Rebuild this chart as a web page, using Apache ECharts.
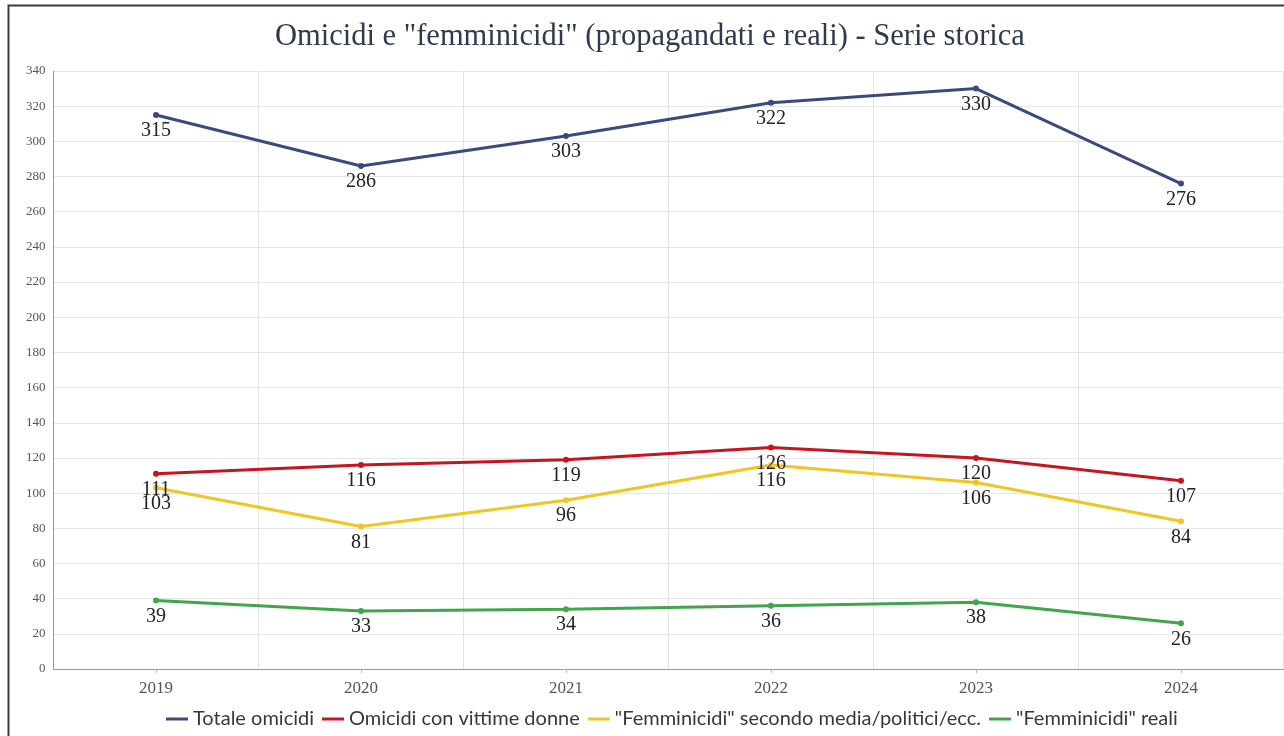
<!DOCTYPE html>
<html>
<head>
<meta charset="utf-8">
<script src="https://cdn.jsdelivr.net/npm/echarts@6/dist/echarts.min.js"></script>
<style>
html,body{margin:0;padding:0;background:#fff;}
#chart{width:1284px;height:736px;}
</style>
</head>
<body>
<div id="chart"></div>
<script>
const titleText = 'Omicidi e "femminicidi" (propagandati e reali) - Serie storica';
const years = ['2019', '2020', '2021', '2022', '2023', '2024'];
const seriesNames = ['Totale omicidi', 'Omicidi con vittime donne', '"Femminicidi" secondo media/politici/ecc.', '"Femminicidi" reali'];
const totaleOmicidi = [315, 286, 303, 322, 330, 276];
const vittimeDonne = [111, 116, 119, 126, 120, 107];
const femminicidiMedia = [103, 81, 96, 116, 106, 84];
const femminicidiReali = [39, 33, 34, 36, 38, 26];
const colors = ['#3a4a7e', '#c8141e', '#f2c522', '#3fa64a'];

const chart = echarts.init(document.getElementById('chart'), null, {renderer: 'canvas'});
const serif = '"Liberation Serif", "DejaVu Serif", serif';
function mk(name, data, color) {
  return {
    name: name, type: 'line', data: data,
    symbol: 'circle', symbolSize: 6,
    lineStyle: {width: 3, color: color},
    itemStyle: {color: color},
    label: {show: true, position: 'bottom', distance: 3, fontFamily: serif, fontSize: 20, color: '#222'},
    labelLayout: {hideOverlap: false},
    z: 3
  };
}
chart.setOption({
  animation: false,
  color: colors,
  title: {
    text: titleText, left: 275, top: 21, padding: 0,
    textStyle: {fontFamily: serif, fontSize: 30.5, fontWeight: 'normal', color: '#2f3a4e'}
  },
  graphic: [{
    type: 'rect', left: 6, top: 3, shape: {width: 1300, height: 760},
    style: {fill: 'none', stroke: '#3a3a3a', lineWidth: 2}, silent: true
  }],
  legend: {
    bottom: 7, left: 166, padding: 0, itemGap: 8,
    icon: 'rect', itemWidth: 22, itemHeight: 3,
    textStyle: {fontFamily: 'Lato', fontSize: 20, color: '#383838'},
    data: seriesNames
  },
  grid: {left: 53.5, right: 0.5, top: 71, bottom: 67, containLabel: false},
  xAxis: {
    type: 'category', data: years, boundaryGap: true,
    axisLine: {lineStyle: {color: '#999', width: 1}},
    axisTick: {show: true, alignWithLabel: true, length: 4, lineStyle: {color: '#bbb'}},
    axisLabel: {fontFamily: serif, fontSize: 17, color: '#555', margin: 11},
    splitLine: {show: true, lineStyle: {color: '#e4e4e4'}}
  },
  yAxis: {
    type: 'value', min: 0, max: 340, interval: 20,
    axisLine: {show: true, lineStyle: {color: '#999', width: 1}},
    axisTick: {show: false},
    axisLabel: {fontFamily: serif, fontSize: 13, color: '#555', margin: 8},
    splitLine: {show: true, lineStyle: {color: '#e6e6e6'}}
  },
  series: [
    mk(seriesNames[0], totaleOmicidi, colors[0]),
    mk(seriesNames[1], vittimeDonne, colors[1]),
    mk(seriesNames[2], femminicidiMedia, colors[2]),
    mk(seriesNames[3], femminicidiReali, colors[3])
  ]
});
</script>
</body>
</html>
